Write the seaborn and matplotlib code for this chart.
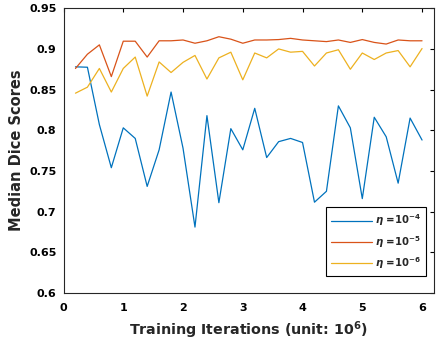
import numpy as np
import pandas as pd
import matplotlib
matplotlib.use('Agg')
import matplotlib.pyplot as plt
import seaborn as sns

# training iterations (unit: 1e6)
iterations = [0.2, 0.4, 0.6, 0.8, 1.0, 1.2, 1.4, 1.6, 1.8, 2.0,
              2.2, 2.4, 2.6, 2.8, 3.0, 3.2, 3.4, 3.6, 3.8, 4.0,
              4.2, 4.4, 4.6, 4.8, 5.0, 5.2, 5.4, 5.6, 5.8, 6.0]

dice_eta4 = [0.878, 0.8775, 0.807, 0.754, 0.803, 0.790, 0.731, 0.776, 0.847, 0.778,
             0.681, 0.818, 0.711, 0.802, 0.776, 0.827, 0.7665, 0.786, 0.790, 0.785,
             0.7116, 0.725, 0.830, 0.803, 0.716, 0.816, 0.792, 0.735, 0.815, 0.788]
dice_eta5 = [0.876, 0.8935, 0.905, 0.866, 0.9095, 0.9095, 0.890, 0.910, 0.910, 0.911,
             0.907, 0.910, 0.915, 0.912, 0.907, 0.911, 0.911, 0.9115, 0.913, 0.911,
             0.910, 0.909, 0.911, 0.908, 0.9115, 0.908, 0.906, 0.911, 0.910, 0.910]
dice_eta6 = [0.8456, 0.853, 0.876, 0.847, 0.876, 0.890, 0.842, 0.884, 0.871, 0.8835,
             0.892, 0.863, 0.889, 0.896, 0.862, 0.895, 0.889, 0.900, 0.896, 0.897,
             0.879, 0.895, 0.899, 0.875, 0.895, 0.887, 0.895, 0.898, 0.878, 0.9005]

labels = [r'$\eta$ =$\mathbf{10^{-4}}$', r'$\eta$ =$\mathbf{10^{-5}}$', r'$\eta$ =$\mathbf{10^{-6}}$']
colors = ['#0072BD', '#D95319', '#EDB120']
ytick_labels = ['0.6', '0.65', '0.7', '0.75', '0.8', '0.85', '0.9', '0.95']

df = pd.concat([
    pd.DataFrame({'iter': iterations, 'dice': vals, 'lr': lab})
    for vals, lab in zip([dice_eta4, dice_eta5, dice_eta6], labels)
])

sns.set_style('white')
plt.rcParams['font.family'] = ['DejaVu Sans']
plt.rcParams['font.weight'] = 'bold'
plt.rcParams['mathtext.fontset'] = 'dejavusans'

fig = plt.figure(figsize=(4.42, 3.41), dpi=100)
ax = fig.add_axes([0.1437, 0.1408, 0.8382, 0.835])

sns.lineplot(data=df, x='iter', y='dice', hue='lr', palette=colors,
             linewidth=0.9, ax=ax)

ax.set_xlim(0, 6.2)
ax.set_ylim(0.6, 0.95)
ax.set_xticks(range(0, 7))
ax.set_yticks(np.arange(0.6, 0.951, 0.05))
ax.set_yticklabels(ytick_labels)
ax.tick_params(direction='in', top=True, right=True, length=3, width=0.8,
               labelsize=8, colors='black')
ax.tick_params(axis='x', pad=7)
ax.tick_params(axis='y', pad=5)
for lbl in ax.get_xticklabels() + ax.get_yticklabels():
    lbl.set_fontweight('bold')
for sp in ax.spines.values():
    sp.set_color('#262626')
    sp.set_linewidth(0.8)

ax.set_xlabel(r'Training Iterations (unit: 10$^{\mathbf{6}}$)', fontsize=10.3,
              fontweight='bold', labelpad=5)
ax.set_ylabel('Median Dice Scores', fontsize=10.5, fontweight='bold', labelpad=4)

ax_w, ax_h = 370.5, 284.7
leg = ax.legend(loc='lower right', bbox_to_anchor=(1 - 8 / ax_w, 17 / ax_h),
                borderaxespad=0, fontsize=7.3, frameon=True, fancybox=False,
                handlelength=4.0, labelspacing=0.55, borderpad=0.5,
                handletextpad=0.3)
leg.get_frame().set_edgecolor('black')
leg.get_frame().set_linewidth(0.8)
leg.get_frame().set_alpha(1)
for t in leg.get_texts():
    t.set_fontweight('bold')

fig.savefig('out.png', dpi=100)
